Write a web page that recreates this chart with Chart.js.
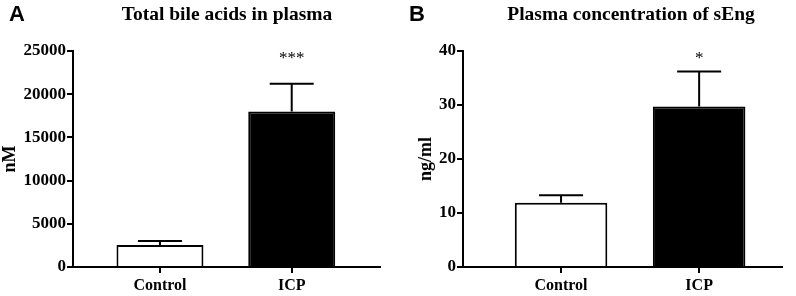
<!DOCTYPE html>
<html>
<head>
<meta charset="utf-8">
<script src="https://cdn.jsdelivr.net/npm/chart.js@4.4.1/dist/chart.umd.min.js"></script>
<style>
  html, body { margin: 0; padding: 0; background: #fff; }
  #wrap { position: relative; width: 796px; height: 296px; }
  .panel { position: absolute; top: 0; height: 296px; }
  .letter { position: absolute; top: 1px; font: bold 22px "Liberation Sans", Arial, sans-serif; color: #000; }
</style>
</head>
<body>
<div id="wrap">
  <div class="panel" style="left:0;width:400px"><canvas id="chartA" width="400" height="296"></canvas></div>
  <div class="panel" style="left:400px;width:396px"><canvas id="chartB" width="396" height="296"></canvas></div>
  <div class="letter" style="left:9px">A</div>
  <div class="letter" style="left:409px">B</div>
</div>
<script>
const categories = ["Control", "ICP"];

// panel A: total bile acids (nM), mean and SEM
const bileMean = [2550, 18000];
const bileSem = [450, 3200];
const bileStars = ["", "***"];
const bileTicks = [0, 5000, 10000, 15000, 20000, 25000];

// panel B: sEng (ng/ml), mean and SEM
const sengMean = [11.9, 29.7];
const sengSem = [1.4, 6.5];
const sengStars = ["", "*"];
const sengTicks = [0, 10, 20, 30, 40];

const serif = "'Liberation Serif', 'Times New Roman', serif";

// error bars, stars and title drawn on top of the bars
const extras = {
  id: "extras",
  afterDatasetsDraw(chart, args, opts) {
    const ctx = chart.ctx;
    const y = chart.scales.y;
    const meta = chart.getDatasetMeta(0);
    const area = chart.chartArea;
    ctx.save();
    ctx.strokeStyle = "#000";
    ctx.lineWidth = 2;
    meta.data.forEach((bar, i) => {
      const top = y.getPixelForValue(opts.mean[i] + opts.sem[i]);
      ctx.beginPath();
      ctx.moveTo(bar.x, bar.y);
      ctx.lineTo(bar.x, top);
      ctx.moveTo(bar.x - 22, top);
      ctx.lineTo(bar.x + 22, top);
      ctx.stroke();
      if (opts.stars[i]) {
        ctx.fillStyle = "#000";
        ctx.font = "17px " + serif;
        ctx.textAlign = "center";
        ctx.textBaseline = "alphabetic";
        ctx.fillText(opts.stars[i], bar.x, area.top + 12);
      }
    });
    ctx.fillStyle = "#000";
    ctx.font = "bold 19.5px " + serif;
    ctx.textAlign = "center";
    ctx.textBaseline = "middle";
    ctx.fillText(opts.title, opts.titleX, 15);
    ctx.restore();
  }
};

function makeChart(id, mean, sem, stars, ticks, yTitle, title, o) {
  new Chart(document.getElementById(id), {
    type: "bar",
    data: {
      datasets: [{
        data: mean.map((v, i) => ({ x: i, y: v })),
        backgroundColor: ["#ffffff", "#000000"],
        borderColor: "#000",
        borderWidth: 2,
        borderSkipped: "start",
        categoryPercentage: 1,
        barPercentage: o.barPct
      }]
    },
    options: {
      responsive: false,
      animation: false,
      layout: { padding: { top: 51, right: o.right, left: 0, bottom: 0 } },
      plugins: {
        legend: { display: false },
        tooltip: { enabled: false },
        extras: { mean, sem, stars, title, titleX: o.titleX }
      },
      scales: {
        x: {
          type: "linear",
          offset: false,
          min: o.xmin,
          max: o.xmax,
          afterBuildTicks: s => { s.ticks = categories.map((c, i) => ({ value: i })); },
          afterFit: s => { s.height = 29; },
          ticks: {
            color: "#000",
            padding: 3,
            font: { family: serif, size: 16, weight: "bold" },
            callback: v => categories[v]
          },
          grid: { offset: false, drawOnChartArea: false, drawTicks: true, tickLength: 6, color: "#000", lineWidth: 2 },
          border: { color: "#000", width: 2 }
        },
        y: {
          min: ticks[0],
          max: ticks[ticks.length - 1],
          afterBuildTicks: s => { s.ticks = ticks.map(v => ({ value: v })); },
          afterFit: s => { s.width = o.yWidth; },
          ticks: {
            color: "#000",
            padding: 1,
            font: { family: serif, size: 17, weight: "bold" },
            callback: v => String(v)
          },
          grid: { drawOnChartArea: false, drawTicks: true, tickLength: 6, color: "#000", lineWidth: 2 },
          border: { color: "#000", width: 2 },
          title: {
            display: true,
            text: yTitle,
            color: "#000",
            padding: { top: o.yTitlePad, bottom: 0 },
            font: { family: serif, size: 18, weight: "bold" }
          }
        }
      }
    },
    plugins: [extras]
  });
}

makeChart("chartA", bileMean, bileSem, bileStars, bileTicks, "nM", "Total bile acids in plasma",
  { xmin: -0.66, xmax: 1.67, barPct: 0.66, right: 20, yWidth: 73, yTitlePad: 0, titleX: 227 });
makeChart("chartB", sengMean, sengSem, sengStars, sengTicks, "ng/ml", "Plasma concentration of sEng",
  { xmin: -0.71, xmax: 1.60, barPct: 0.67, right: 14, yWidth: 63, yTitlePad: 16, titleX: 231 });
</script>
</body>
</html>
